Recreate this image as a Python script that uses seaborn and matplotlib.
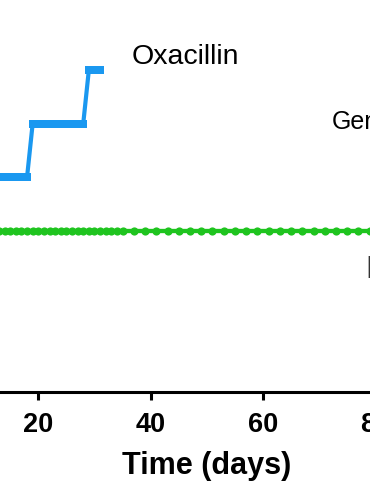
import matplotlib
matplotlib.use("Agg")
import matplotlib.pyplot as plt
import seaborn as sns
import pandas as pd

# ---- data ----
green_days = [0, 1, 2, 3, 4, 5, 6, 7, 8, 9, 10, 11, 12, 13, 14, 15, 16, 17, 18, 19,
              20, 21, 22, 23, 24, 25, 26, 27, 28, 29, 30, 31, 32, 33, 34, 35,
              37, 39, 41, 43, 45, 47, 49, 51, 53, 55, 57, 59, 61, 63, 65, 67, 69,
              71, 73, 75, 77, 79, 81, 83, 85, 87, 89, 91, 93, 95, 97, 99]
green_fold = [1] * len(green_days)

oxa_days = [0, 1, 2, 3, 4, 5, 6, 7, 8, 9, 10, 11, 12, 13, 14, 15, 16, 17, 18, 19,
            20, 21, 22, 23, 24, 25, 26, 27, 28, 29, 30, 31]
oxa_fold = [1, 1, 1, 1, 1, 1, 1, 1, 1, 1, 1, 1, 1,
            2, 2, 2, 2, 2, 2,
            4, 4, 4, 4, 4, 4, 4, 4, 4, 4,
            8, 8, 8]

x_ticks = [20, 40, 60, 80, 100]
x_label = "Time (days)"
label_oxa = "Oxacillin"
label_gen = "Gentamicin"
label_right = "Daptomycin"

BLUE = "#1a98f0"
GREEN = "#1fc41f"

sns.set_theme(style="ticks")
plt.rcParams["font.family"] = ["Liberation Sans", "DejaVu Sans"]

W, H = 370, 490
fig = plt.figure(figsize=(W / 100, H / 100), dpi=100)
ax = fig.add_axes([-74.05 / W, (H - 391.7) / H, 561.75 / W, 428.7 / H])

df_oxa = pd.DataFrame({"day": oxa_days, "fold": oxa_fold})
df_green = pd.DataFrame({"day": green_days, "fold": green_fold})

sns.lineplot(data=df_oxa, x="day", y="fold", ax=ax, color=BLUE, lw=3.0,
             marker="s", markersize=5.4, markeredgewidth=0, zorder=2)
sns.lineplot(data=df_green, x="day", y="fold", ax=ax, color=GREEN, lw=3.1,
             marker="o", markersize=5.9, markeredgewidth=0, zorder=3)

ax.set_yscale("log", base=2)
ax.set_ylim(2 ** -3.013, 2 ** 5)
ax.set_xlim(0, 100)
ax.set_yticks([])
ax.minorticks_off()
ax.set_ylabel("")
ax.set_xticks(x_ticks)
ax.tick_params(axis="x", length=5.8, width=2.2, pad=8.5, labelsize=19.5,
               colors="black")
for lbl in ax.get_xticklabels():
    lbl.set_fontweight("bold")
sns.despine(ax=ax)
ax.spines["bottom"].set_linewidth(2.2)
ax.spines["bottom"].set_color("black")
ax.spines["left"].set_visible(False)
ax.set_xlabel(x_label, fontsize=22, fontweight="bold", labelpad=9.5, color="black")

fig.text(131.3 / W, 1 - 63.5 / H, label_oxa, fontsize=20.5, va="baseline",
         ha="left", color="black")
fig.text(331.5 / W, 1 - 129 / H, label_gen, fontsize=18, va="baseline",
         ha="left", color="black")
fig.text(365.5 / W, 1 - 278 / H, label_right, fontsize=23, va="baseline",
         ha="left", color="#333333")

fig.savefig("out.png", dpi=100)
